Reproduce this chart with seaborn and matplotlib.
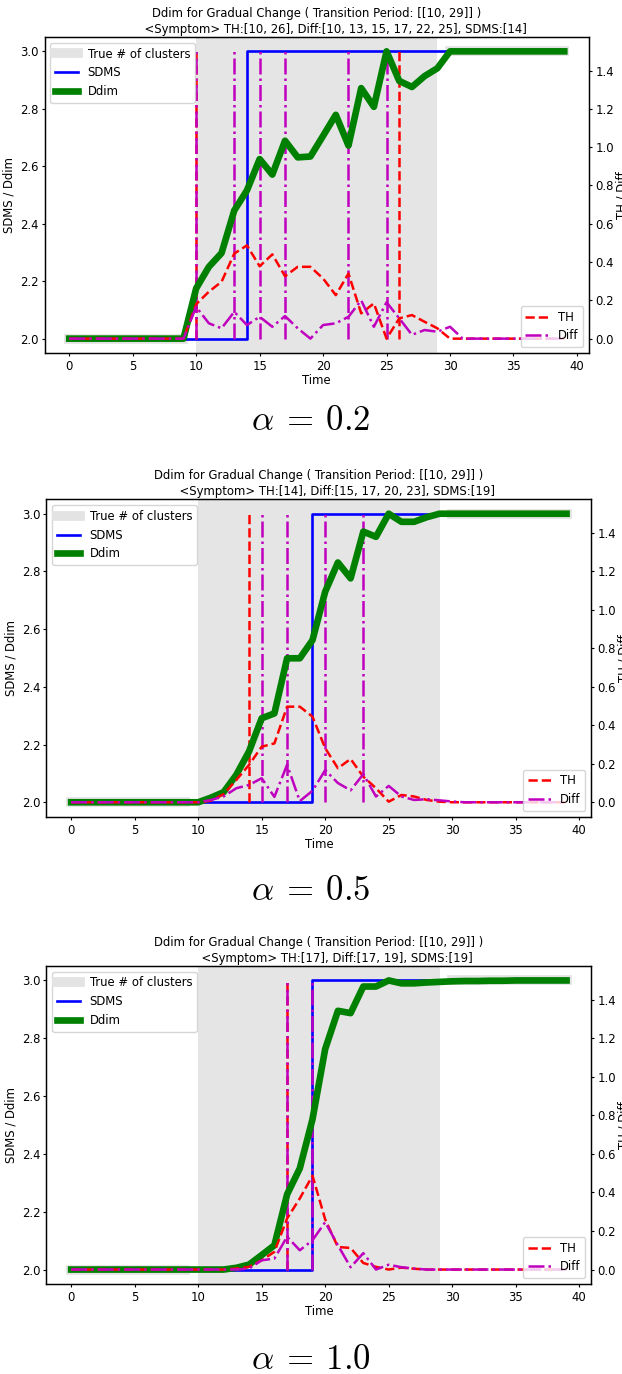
import matplotlib
matplotlib.use("Agg")
import matplotlib.pyplot as plt
import seaborn as sns

# ---------------- data ----------------
time = list(range(40))
transition = [10, 29]

true_time_before = [0, 1, 2, 3, 4, 5, 6, 7, 8, 9]
true_k_before = [2, 2, 2, 2, 2, 2, 2, 2, 2, 2]
true_time_after = [30, 31, 32, 33, 34, 35, 36, 37, 38, 39]
true_k_after = [3, 3, 3, 3, 3, 3, 3, 3, 3, 3]

alphas = ["0.2", "0.5", "1.0"]

# alpha = 0.2
sdms_02 = [2, 2, 2, 2, 2, 2, 2, 2, 2, 2, 2, 2, 2, 2, 3, 3, 3, 3, 3, 3,
           3, 3, 3, 3, 3, 3, 3, 3, 3, 3, 3, 3, 3, 3, 3, 3, 3, 3, 3, 3]
ddim_02 = [2.0, 2.0, 2.0, 2.0, 2.0, 2.0, 2.0, 2.0, 2.0, 2.0,
           2.175, 2.25, 2.298, 2.446, 2.516, 2.625, 2.571, 2.689, 2.631, 2.634,
           2.706, 2.779, 2.672, 2.872, 2.807, 3.0, 2.897, 2.876, 2.914, 2.941,
           3.0, 3.0, 3.0, 3.0, 3.0, 3.0, 3.0, 3.0, 3.0, 3.0]
th_02 = [0, 0, 0, 0, 0, 0, 0, 0, 0, 0,
         0.18, 0.245, 0.297, 0.444, 0.487, 0.378, 0.44, 0.326, 0.375, 0.375,
         0.314, 0.227, 0.34, 0.132, 0.184, 0.0, 0.106, 0.123, 0.088, 0.054,
         0, 0, 0, 0, 0, 0, 0, 0, 0, 0]
diff_02 = [0, 0, 0, 0, 0, 0, 0, 0, 0, 0,
           0.166, 0.08, 0.054, 0.14, 0.071, 0.114, 0.062, 0.118, 0.054, 0.0,
           0.071, 0.08, 0.114, 0.2, 0.062, 0.19, 0.106, 0.02, 0.045, 0.036,
           0.062, 0, 0, 0, 0, 0, 0, 0, 0, 0]
th_sym_02 = [10, 26]
diff_sym_02 = [10, 13, 15, 17, 22, 25]
sdms_sym_02 = [14]

# alpha = 0.5
sdms_05 = [2, 2, 2, 2, 2, 2, 2, 2, 2, 2, 2, 2, 2, 2, 2, 2, 2, 2, 2, 3,
           3, 3, 3, 3, 3, 3, 3, 3, 3, 3, 3, 3, 3, 3, 3, 3, 3, 3, 3, 3]
ddim_05 = [2.0, 2.0, 2.0, 2.0, 2.0, 2.0, 2.0, 2.0, 2.0, 2.0,
           2.0, 2.016, 2.035, 2.095, 2.176, 2.291, 2.308, 2.499, 2.499, 2.562,
           2.73, 2.831, 2.776, 2.938, 2.92, 3.0, 2.972, 2.972, 2.988, 3.0,
           3.0, 3.0, 3.0, 3.0, 3.0, 3.0, 3.0, 3.0, 3.0, 3.0]
th_05 = [0, 0, 0, 0, 0, 0, 0, 0, 0, 0,
         0, 0.008, 0.042, 0.116, 0.194, 0.289, 0.306, 0.497, 0.497, 0.445,
         0.281, 0.177, 0.225, 0.133, 0.073, 0.003, 0.038, 0.03, 0.012, 0.003,
         0, 0, 0, 0, 0, 0, 0, 0, 0, 0]
diff_05 = [0, 0, 0, 0, 0, 0, 0, 0, 0, 0,
           0, 0.012, 0.03, 0.073, 0.09, 0.125, 0.028, 0.195, 0.006, 0.06,
           0.167, 0.1, 0.062, 0.146, 0.03, 0.085, 0.03, 0.012, 0.016, 0.01,
           0.004, 0, 0, 0, 0, 0, 0, 0, 0, 0]
th_sym_05 = [14]
diff_sym_05 = [15, 17, 20, 23]
sdms_sym_05 = [19]

# alpha = 1.0
sdms_10 = [2, 2, 2, 2, 2, 2, 2, 2, 2, 2, 2, 2, 2, 2, 2, 2, 2, 2, 2, 3,
           3, 3, 3, 3, 3, 3, 3, 3, 3, 3, 3, 3, 3, 3, 3, 3, 3, 3, 3, 3]
ddim_10 = [2.0, 2.0, 2.0, 2.0, 2.0, 2.0, 2.0, 2.0, 2.0, 2.0,
           2.0, 2.0, 2.0, 2.006, 2.017, 2.05, 2.084, 2.26, 2.35, 2.52,
           2.763, 2.895, 2.887, 2.979, 2.979, 3.0, 2.99, 2.99, 2.993, 2.995,
           2.997, 2.998, 2.998, 2.999, 2.999, 3.0, 3.0, 3.0, 3.0, 3.0]
th_10 = [0, 0, 0, 0, 0, 0, 0, 0, 0, 0,
         0, 0, 0, 0.005, 0.014, 0.048, 0.092, 0.265, 0.369, 0.487,
         0.26, 0.117, 0.112, 0.034, 0.014, 0.0, 0.01, 0.004, 0, 0,
         0, 0, 0, 0, 0, 0, 0, 0, 0, 0]
diff_10 = [0, 0, 0, 0, 0, 0, 0, 0, 0, 0,
           0, 0, 0, 0, 0.005, 0.048, 0.057, 0.17, 0.1, 0.152,
           0.246, 0.126, 0.012, 0.085, 0.0, 0.025, 0.012, 0.005, 0, 0,
           0, 0, 0, 0, 0, 0, 0, 0, 0, 0]
th_sym_10 = [17]
diff_sym_10 = [17, 19]
sdms_sym_10 = [19]

panels = [
    (sdms_02, ddim_02, th_02, diff_02, th_sym_02, diff_sym_02, sdms_sym_02),
    (sdms_05, ddim_05, th_05, diff_05, th_sym_05, diff_sym_05, sdms_sym_05),
    (sdms_10, ddim_10, th_10, diff_10, th_sym_10, diff_sym_10, sdms_sym_10),
]

# ---------------- style ----------------
FS = 8.4
sns.set_style("ticks", rc={
    "axes.edgecolor": "black",
    "axes.labelcolor": "black",
    "text.color": "black",
    "xtick.color": "black",
    "ytick.color": "black",
    "lines.solid_capstyle": "projecting",
})
plt.rcParams.update({
    "font.family": ["DejaVu Sans"],
    "font.size": FS,
    "axes.titlesize": FS,
    "axes.labelsize": FS,
    "xtick.labelsize": FS,
    "ytick.labelsize": FS,
    "legend.fontsize": FS,
    "mathtext.fontset": "cm",
    "axes.linewidth": 0.9,
    "xtick.major.size": 2.5,
    "ytick.major.size": 2.5,
    "xtick.major.width": 0.8,
    "ytick.major.width": 0.8,
    "xtick.major.pad": 2.5,
    "ytick.major.pad": 2.0,
})

W, H = 622, 1374
fig = plt.figure(figsize=(W / 100, H / 100), dpi=100)

# axes boxes in pixels: left, right, top, bottom
boxes = [(44.5, 589.0, 37.0, 353.0),
         (46.4, 591.3, 499.3, 816.7),
         (46.4, 591.3, 966.0, 1284.0)]
alpha_y = [420, 890, 1359]

LW_TD = 1.8

for i, (sdms, ddim, th, diff, th_sym, diff_sym, sdms_sym) in enumerate(panels):
    l, r, t, b = boxes[i]
    ax = fig.add_axes([l / W, 1 - b / H, (r - l) / W, (b - t) / H])

    ax.axvspan(transition[0], transition[1], color="#e5e5e5", lw=0, zorder=0)
    ax.plot(true_time_before, true_k_before, color="#e3e3e3", lw=7,
            label="True # of clusters")
    ax.plot(true_time_after, true_k_after, color="#e3e3e3", lw=7)
    sns.lineplot(x=time, y=sdms, ax=ax, color="b", linewidth=1.9,
                 drawstyle="steps-post", label="SDMS", legend=False)
    ax.vlines(th_sym, 2, 3, colors="r", linestyles="--", linewidth=LW_TD)
    ax.vlines(diff_sym, 2, 3, colors="m", linestyles="-.", linewidth=LW_TD)
    sns.lineplot(x=time, y=ddim, ax=ax, color="g", linewidth=4.8,
                 label="Ddim", legend=False)

    ax.set_xlim(-1.95, 40.95)
    ax.set_ylim(1.95, 3.05)
    ax.set_xticks([0, 5, 10, 15, 20, 25, 30, 35, 40])
    ax.set_yticks([2.0, 2.2, 2.4, 2.6, 2.8, 3.0])
    ax.set_xlabel("Time", labelpad=1)
    ax.set_ylabel("SDMS / Ddim", labelpad=3)

    h, lab = ax.get_legend_handles_labels()
    ax.legend(h, lab, loc="upper left", frameon=True)

    title = ("Ddim for Gradual Change ( Transition Period: [%s] )\n"
             "          <Symptom> TH:%s, Diff:%s, SDMS:%s"
             % (str(transition), str(th_sym), str(diff_sym), str(sdms_sym)))
    ax.set_title(title, pad=3, linespacing=1.3)

    ax2 = ax.twinx()
    sns.lineplot(x=time, y=th, ax=ax2, color="r", linewidth=LW_TD,
                 linestyle="--", label="TH", legend=False)
    sns.lineplot(x=time, y=diff, ax=ax2, color="m", linewidth=LW_TD,
                 linestyle="-.", label="Diff", legend=False)
    ax2.set_ylim(-0.075, 1.575)
    ax2.set_yticks([0.0, 0.2, 0.4, 0.6, 0.8, 1.0, 1.2, 1.4])
    ax2.set_ylabel("TH / Diff", labelpad=1)
    h2, lab2 = ax2.get_legend_handles_labels()
    ax2.legend(h2, lab2, loc="lower right", frameon=True)

    fig.text(0.5, 1 - alpha_y[i] / H, r"$\alpha\:=\:%s$" % alphas[i],
             ha="center", va="center", fontsize=25)

fig.savefig("out.png", dpi=100)
